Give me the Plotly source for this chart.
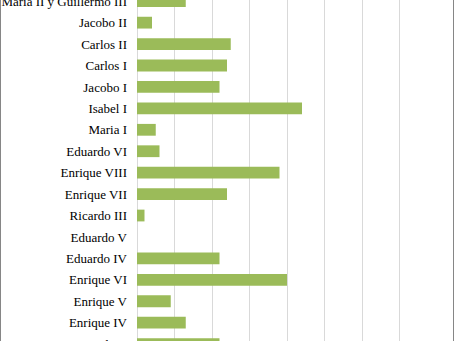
import plotly.graph_objects as go

# Reign length (years) of English monarchs, earliest at the bottom
monarchs = [
    "Ricardo II", "Enrique IV", "Enrique V", "Enrique VI", "Eduardo IV",
    "Eduardo V", "Ricardo III", "Enrique VII", "Enrique VIII", "Eduardo VI",
    "Maria I", "Isabel I", "Jacobo I", "Carlos I", "Carlos II", "Jacobo II",
    "Maria II y Guillermo III",
]
years = [22, 13, 9, 40, 22, 0, 2, 24, 38, 6, 5, 44, 22, 24, 25, 4, 13]

W, H = 454, 360
L, R = 137, 17
plot_w = W - L - R

fig = go.Figure(
    go.Bar(
        x=years,
        y=monarchs,
        orientation="h",
        marker=dict(color="#9BBB59", line=dict(width=0)),
        hoverinfo="skip",
    )
)

grid = "#D9D9D9"
fig.update_layout(
    width=W,
    height=H,
    margin=dict(l=L, r=R, t=0, b=0, pad=0, autoexpand=False),
    paper_bgcolor="white",
    plot_bgcolor="white",
    bargap=0.45,
    showlegend=False,
    xaxis=dict(
        range=[0, 80],
        dtick=10,
        showgrid=True,
        gridcolor=grid,
        gridwidth=1,
        zeroline=True,
        zerolinecolor=grid,
        zerolinewidth=1,
        showticklabels=False,
        ticks="",
        automargin=False,
        fixedrange=True,
    ),
    yaxis=dict(
        type="category",
        categoryorder="array",
        categoryarray=monarchs,
        range=[-0.742, 16.057],
        showgrid=False,
        zeroline=False,
        ticks="",
        ticklabelstandoff=9,
        automargin=False,
        tickfont=dict(family='"Liberation Serif", "Times New Roman", serif',
                      size=13, color="#000000"),
        fixedrange=True,
    ),
    shapes=[
        dict(type="line", xref="paper", yref="paper",
             x0=(0.5 - L) / plot_w, x1=(0.5 - L) / plot_w, y0=0, y1=1,
             line=dict(color="#868686", width=1)),
        dict(type="line", xref="paper", yref="paper",
             x0=(453.5 - L) / plot_w, x1=(453.5 - L) / plot_w, y0=0, y1=1,
             line=dict(color="#868686", width=1)),
    ],
)

fig.write_html("out.html", config=dict(displayModeBar=False))
